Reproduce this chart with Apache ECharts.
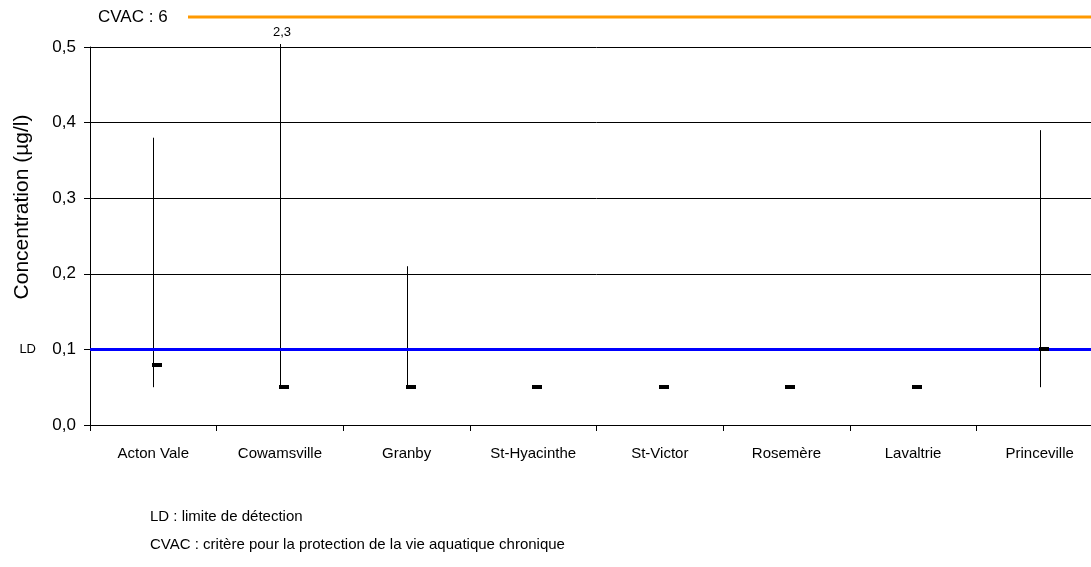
<!DOCTYPE html>
<html>
<head>
<meta charset="utf-8">
<script src="https://cdn.jsdelivr.net/npm/echarts@6/dist/echarts.min.js"></script>
<style>
html,body{margin:0;padding:0;background:#fff;overflow:hidden;width:1091px;height:567px;}
#c{width:1103px;height:567px;}
</style>
</head>
<body>
<div id="c"></div>
<script>
// ---- data ----
const categories = ['Acton Vale', 'Cowamsville', 'Granby', 'St-Hyacinthe', 'St-Victor', 'Rosemère', 'Lavaltrie', 'Princeville'];
const minValues = [0.05, 0.05, 0.05, null, null, null, null, 0.05];
const maxValues = [0.38, 2.3, 0.21, null, null, null, null, 0.39];
const medianValues = [0.08, 0.05, 0.05, 0.05, 0.05, 0.05, 0.05, 0.10];
const yTicks = [0, 0.1, 0.2, 0.3, 0.4, 0.5];
const LD = 0.1;
const CVAC = 6;
const notes = ['LD : limite de détection', 'CVAC : critère pour la protection de la vie aquatique chronique'];
const yTitle = 'Concentration (µg/l)';

const FONT = 'Liberation Sans, Arial, sans-serif';
const Y_MIN = yTicks[0], Y_MAX = yTicks[yTicks.length - 1];
const fmt = v => String(v).replace('.', ',');

const whiskerData = categories.map((c, i) => [i, minValues[i], maxValues[i]]).filter(d => d[1] != null);
const medianData = categories.map((c, i) => [i, medianValues[i]]);

const chart = echarts.init(document.getElementById('c'), null, {renderer: 'canvas'});
chart.setOption({
  animation: false,
  backgroundColor: '#fff',
  textStyle: {fontFamily: FONT},
  grid: {left: 90, right: 0, top: 47, bottom: 142},
  xAxis: {
    type: 'category',
    data: categories,
    boundaryGap: true,
    axisLine: {lineStyle: {color: '#000', width: 1}},
    axisTick: {show: true, length: 6, lineStyle: {color: '#000'}},
    axisLabel: {color: '#000', fontSize: 15, margin: 21, fontFamily: FONT, interval: 0},
    splitLine: {show: false}
  },
  yAxis: {
    type: 'value',
    min: Y_MIN, max: Y_MAX, interval: 0.1,
    axisLine: {show: true, lineStyle: {color: '#000', width: 1}},
    axisTick: {show: true, length: 6, lineStyle: {color: '#000'}},
    axisLabel: {color: '#000', fontSize: 17, margin: 14, fontFamily: FONT,
      formatter: v => v.toFixed(1).replace('.', ',')},
    splitLine: {show: true, lineStyle: {color: '#000', width: 1}}
  },
  series: [
    {
      name: 'LD', type: 'line', data: [], z: 3,
      markLine: {
        silent: true, symbol: ['none', 'none'],
        lineStyle: {color: '#0000ff', width: 3, type: 'solid'},
        label: {show: true, position: 'start', formatter: 'LD', distance: 54, color: '#000', fontSize: 13, fontFamily: FONT},
        data: [{yAxis: LD}]
      }
    },
    {
      name: 'CVAC', type: 'custom', clip: false, z: 3,
      data: [[0, CVAC]],
      renderItem: function (params, api) {
        const cs = params.coordSys;
        const y = cs.y - 30;
        return {type: 'group', children: [
          {type: 'line', shape: {x1: cs.x + 98, y1: y, x2: cs.x + cs.width, y2: y},
           style: {stroke: '#ff9900', lineWidth: 3}},
          {type: 'text', x: cs.x + 8, y: y,
           style: {text: 'CVAC : ' + fmt(api.value(1)), fill: '#000', font: '17px ' + FONT, textAlign: 'left', textVerticalAlign: 'middle'}}
        ]};
      }
    },
    {
      name: 'range', type: 'custom', clip: false, z: 4,
      data: whiskerData,
      renderItem: function (params, api) {
        const i = api.value(0), lo = api.value(1), hi = api.value(2);
        const p0 = api.coord([i, lo]);
        const p1 = api.coord([i, Math.min(hi, Y_MAX)]);
        const over = hi > Y_MAX;
        const top = over ? p1[1] - 3 : p1[1];
        const children = [
          {type: 'line', shape: {x1: Math.round(p0[0]) + 0.5, y1: p0[1], x2: Math.round(p0[0]) + 0.5, y2: top},
           style: {stroke: '#000', lineWidth: 1}}
        ];
        if (over) {
          children.push({type: 'text', x: p0[0] + 2, y: top - 5,
            style: {text: fmt(hi), fill: '#000', font: '13px ' + FONT, textAlign: 'center', textVerticalAlign: 'bottom'}});
        }
        return {type: 'group', children: children};
      }
    },
    {
      name: 'median', type: 'custom', clip: false, z: 5,
      data: medianData,
      renderItem: function (params, api) {
        const p = api.coord([api.value(0), api.value(1)]);
        return {type: 'rect', shape: {x: Math.round(p[0]) - 1, y: Math.round(p[1]) - 2, width: 10, height: 4},
          style: {fill: '#000'}};
      }
    }
  ],
  graphic: [
    {type: 'text', x: 22, y: 207, rotation: Math.PI / 2,
     style: {text: yTitle, fill: '#000', font: '21px ' + FONT, textAlign: 'center', textVerticalAlign: 'middle'}},
    {type: 'text', x: 150, y: 517,
     style: {text: notes[0], fill: '#000', font: '15px ' + FONT, textAlign: 'left', textVerticalAlign: 'middle'}},
    {type: 'text', x: 150, y: 545,
     style: {text: notes[1], fill: '#000', font: '15px ' + FONT, textAlign: 'left', textVerticalAlign: 'middle'}}
  ]
});
</script>
</body>
</html>
